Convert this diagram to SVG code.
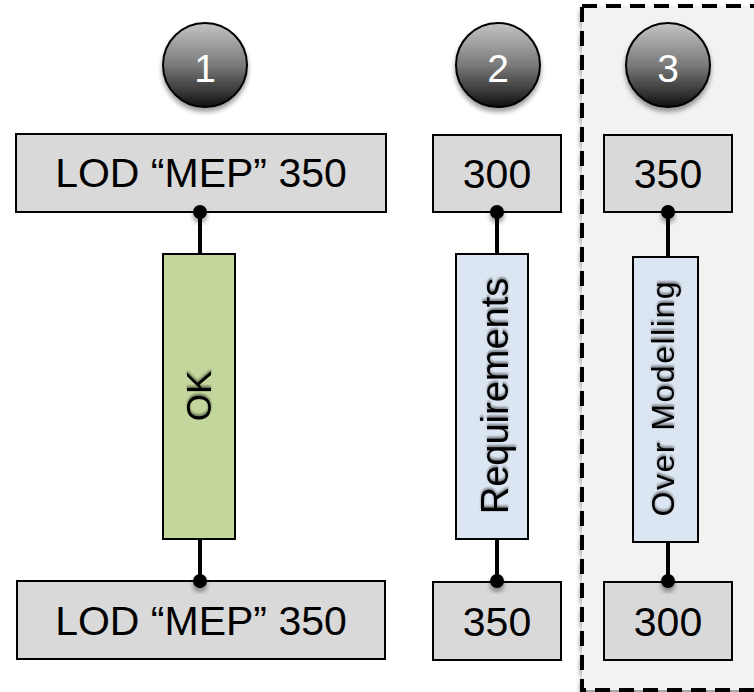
<svg xmlns="http://www.w3.org/2000/svg" width="754" height="692" viewBox="0 0 754 692">
<defs>
  <linearGradient id="ball" x1="0" y1="0" x2="0" y2="1">
    <stop offset="0" stop-color="#c4c4c4"/>
    <stop offset="0.5" stop-color="#7a7a7a"/>
    <stop offset="1" stop-color="#111111"/>
  </linearGradient>
  <filter id="sh" x="-30%" y="-30%" width="160%" height="170%">
    <feGaussianBlur in="SourceAlpha" stdDeviation="2.5"/>
    <feOffset dx="0" dy="4" result="b"/>
    <feComponentTransfer><feFuncA type="linear" slope="0.4"/></feComponentTransfer>
    <feMerge><feMergeNode/><feMergeNode in="SourceGraphic"/></feMerge>
  </filter>
  <filter id="tsh" x="-20%" y="-20%" width="140%" height="140%">
    <feGaussianBlur in="SourceAlpha" stdDeviation="1.2"/>
    <feOffset dx="2" dy="0"/>
    <feComponentTransfer><feFuncA type="linear" slope="0.45"/></feComponentTransfer>
    <feMerge><feMergeNode/><feMergeNode in="SourceGraphic"/></feMerge>
  </filter>
</defs>
<style>
  .box { fill: #d9d9d9; stroke: #000; stroke-width: 2; }
  .green { fill: #c3d69b; stroke: #000; stroke-width: 2; }
  .blue { fill: #dce6f2; stroke: #000; stroke-width: 2; }
  .ball { fill: url(#ball); stroke: #000; stroke-width: 2; }
  .t { font-family: "Liberation Sans", Arial, sans-serif; fill: #000; text-anchor: middle; }
  .num { font-family: "Liberation Sans", Arial, sans-serif; fill: #fff; text-anchor: middle; font-size: 39px; }
  .big { font-size: 41px; }
  .conn { stroke: #000; stroke-width: 4; fill: none; }
  .dot { fill: #000; }
</style>
<rect width="754" height="692" fill="#ffffff"/>
<g id="zone3">
  <rect x="582" y="6" width="200" height="684" fill="#f2f2f2" stroke="#000" stroke-width="4" stroke-dasharray="15 9" filter="url(#sh)"/>
</g>
<g id="badges">
  <g id="badge1"><circle class="ball" cx="205" cy="65" r="42" filter="url(#sh)"/><text class="num" x="205" y="82">1</text></g>
  <g id="badge2"><circle class="ball" cx="498" cy="65" r="42" filter="url(#sh)"/><text class="num" x="498" y="82">2</text></g>
  <g id="badge3"><circle class="ball" cx="668" cy="65" r="42" filter="url(#sh)"/><text class="num" x="668" y="82">3</text></g>
</g>
<g id="connectors">
  <line class="conn" x1="200" y1="212" x2="200" y2="254"/>
  <line class="conn" x1="200" y1="539" x2="200" y2="581"/>
  <line class="conn" x1="497" y1="212" x2="497" y2="254"/>
  <line class="conn" x1="497" y1="539" x2="497" y2="581"/>
  <line class="conn" x1="668" y1="212" x2="668" y2="257"/>
  <line class="conn" x1="668" y1="542" x2="668" y2="581"/>
</g>
<g id="top1"><rect class="box" x="16" y="134" width="370" height="78"/><text class="t big" x="201" y="187">LOD “MEP” 350</text></g>
<g id="top2"><rect class="box" x="433" y="135" width="128" height="77"/><text class="t big" x="497" y="188">300</text></g>
<g id="top3"><rect class="box" x="604" y="135" width="128" height="77"/><text class="t big" x="668" y="188">350</text></g>
<g id="bar1"><rect class="green" x="163" y="254" width="72" height="285"/><text class="t" font-size="35" transform="translate(211 396) rotate(-90)" filter="url(#tsh)">OK</text></g>
<g id="bar2"><rect class="blue" x="456" y="254" width="72" height="285"/><text class="t" font-size="38" transform="translate(508 396) rotate(-90)" filter="url(#tsh)">Requirements</text></g>
<g id="bar3"><rect class="blue" x="633" y="257" width="65" height="285"/><text class="t" font-size="32" textLength="235" lengthAdjust="spacing" transform="translate(674 399) rotate(-90)" filter="url(#tsh)">Over Modelling</text></g>
<g id="bottom1"><rect class="box" x="17" y="581" width="368" height="78"/><text class="t big" x="201" y="635">LOD “MEP” 350</text></g>
<g id="bottom2"><rect class="box" x="433" y="582" width="128" height="78"/><text class="t big" x="497" y="636">350</text></g>
<g id="bottom3"><rect class="box" x="604" y="582" width="128" height="78"/><text class="t big" x="668" y="636">300</text></g>
<g id="dots">
  <circle class="dot" cx="200" cy="212" r="7" filter="url(#sh)"/>
  <circle class="dot" cx="200" cy="581" r="7" filter="url(#sh)"/>
  <circle class="dot" cx="497" cy="212" r="7" filter="url(#sh)"/>
  <circle class="dot" cx="497" cy="581" r="7" filter="url(#sh)"/>
  <circle class="dot" cx="668" cy="212" r="7" filter="url(#sh)"/>
  <circle class="dot" cx="668" cy="581" r="7" filter="url(#sh)"/>
</g>
</svg>
